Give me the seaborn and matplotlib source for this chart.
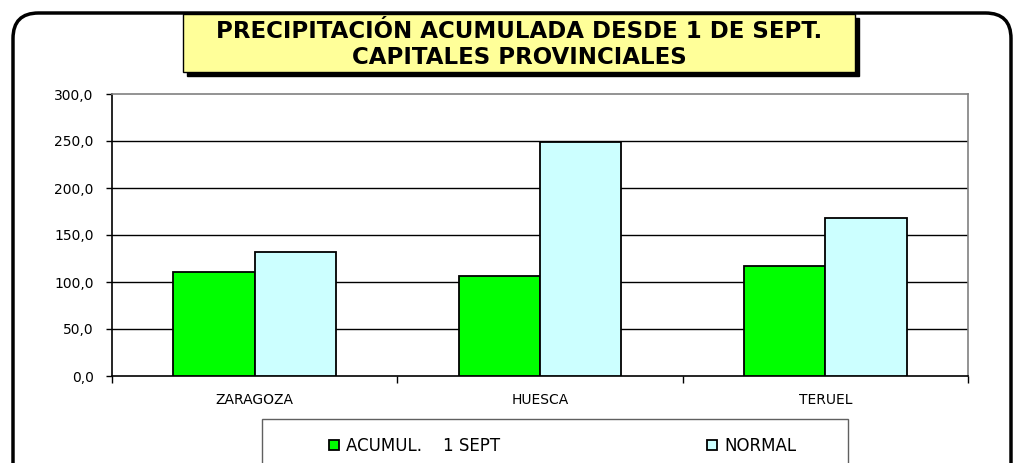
import matplotlib
matplotlib.use("Agg")
import matplotlib.pyplot as plt
import seaborn as sns
import pandas as pd
from matplotlib.patches import Rectangle, FancyBboxPatch
from matplotlib.ticker import FuncFormatter, FixedLocator

categories = ["ZARAGOZA", "HUESCA", "TERUEL"]
acumul = [111.0, 106.0, 117.0]
normal = [132.3, 248.6, 168.4]
series_names = ["ACUMUL.    1 SEPT", "NORMAL"]
colors = ["#00FF00", "#CCFFFF"]
yticks = [0, 50, 100, 150, 200, 250, 300]

df = pd.DataFrame({
    "cat": categories * 2,
    "val": acumul + normal,
    "serie": [series_names[0]] * 3 + [series_names[1]] * 3,
})

sns.set_style("white")
plt.rcParams["font.family"] = ["DejaVu Sans"]
plt.rcParams["text.color"] = "black"
plt.rcParams["xtick.color"] = "black"
plt.rcParams["ytick.color"] = "black"

W, H = 1019, 463
fig = plt.figure(figsize=(W / 100, H / 100), dpi=100)

def fx(px):
    return px / W

def fy(py):
    return 1 - py / H

ax = fig.add_axes([fx(112), fy(376), fx(968) - fx(112), fy(94) - fy(376)])

sns.barplot(data=df, x="cat", y="val", hue="serie", palette=colors,
            width=0.57, edgecolor="black", linewidth=1.3, ax=ax,
            legend=True, zorder=3, saturation=1)

ax.set_ylim(0, 300)
ax.set_xlim(-0.5, 2.5)
ax.set_yticks(yticks)
ax.yaxis.set_major_formatter(FuncFormatter(lambda v, p: f"{v:.1f}".replace(".", ",")))
ax.set_xlabel("")
ax.set_ylabel("")

for y in yticks[1:-1]:
    ax.axhline(y, color="black", lw=1.0, zorder=1)

ax.xaxis.set_major_locator(FixedLocator([-0.5, 0.5, 1.5, 2.5]))
ax.xaxis.set_minor_locator(FixedLocator([0, 1, 2]))
ax.set_xticklabels([], minor=False)
ax.set_xticklabels(categories, minor=True)
ax.tick_params(axis="x", which="major", direction="out", length=5, width=1, color="black", bottom=True)
ax.tick_params(axis="x", which="minor", length=0, pad=12, labelsize=10, labelcolor="black")
ax.tick_params(axis="y", direction="out", length=4.3, width=1, color="black", left=True,
               labelsize=10, pad=9, labelcolor="black")

for s in ["left", "bottom"]:
    ax.spines[s].set_color("black")
    ax.spines[s].set_linewidth(1.2)
for s in ["top", "right"]:
    ax.spines[s].set_visible(True)
    ax.spines[s].set_color("#808080")
    ax.spines[s].set_linewidth(1.2)

# legend (box drawn separately, entries spread across it)
handles, labels = ax.get_legend_handles_labels()
ax.get_legend().remove()
legbox = Rectangle((fx(262), fy(500)), fx(848) - fx(262), fy(419) - fy(500),
                   transform=fig.transFigure, facecolor="white", edgecolor="#606060",
                   linewidth=1.0, zorder=1)
fig.patches.append(legbox)
leg = fig.legend(handles, labels, loc="center left",
                 bbox_to_anchor=(fx(329), fy(446), fx(796) - fx(329), 0.0),
                 mode="expand", ncol=2, frameon=False,
                 handlelength=0.6, handleheight=0.6, handletextpad=0.4,
                 borderpad=0, fontsize=12, borderaxespad=0)
leg.set_zorder(5)

# outer rounded frame
frame = FancyBboxPatch((fx(13), fy(500)), fx(1011) - fx(13), fy(13) - fy(500),
                       boxstyle="round,pad=0,rounding_size=0.025",
                       transform=fig.transFigure, fill=False, edgecolor="black",
                       linewidth=2.5, zorder=0, mutation_aspect=W / H)
fig.patches.append(frame)

# title box with shadow
shadow = Rectangle((fx(187), fy(76)), fx(859) - fx(187), fy(18) - fy(76),
                   transform=fig.transFigure, facecolor="black", edgecolor="black", zorder=1)
box = Rectangle((fx(183), fy(72)), fx(855) - fx(183), fy(14) - fy(72),
                transform=fig.transFigure, facecolor="#FFFF99", edgecolor="black",
                linewidth=1.0, zorder=2)
fig.patches.extend([shadow, box])
fig.text(fx(519), fy(31), "PRECIPITACIÓN ACUMULADA DESDE 1 DE SEPT.",
         ha="center", va="center", fontsize=16.5, fontweight="bold", zorder=3)
fig.text(fx(519), fy(57), "CAPITALES PROVINCIALES",
         ha="center", va="center", fontsize=16.5, fontweight="bold", zorder=3)

fig.savefig("out.png", dpi=100)
